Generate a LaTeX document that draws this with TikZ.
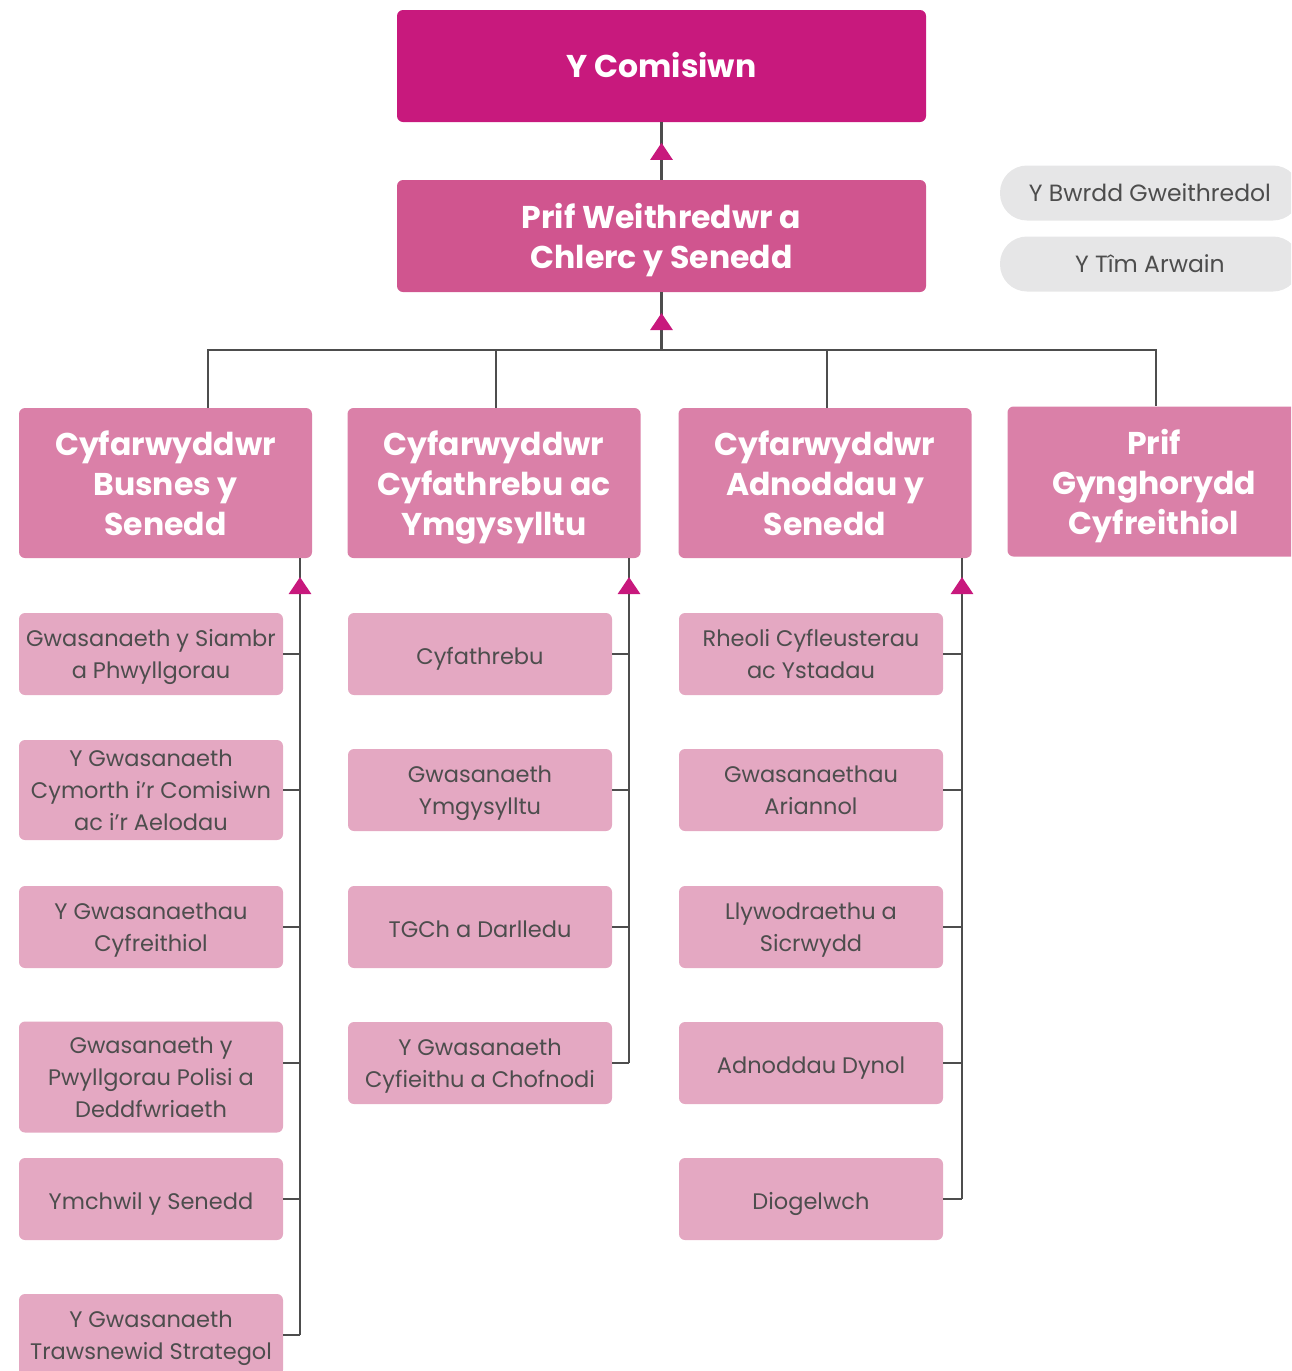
\documentclass[tikz,border=0pt]{standalone}
\usepackage{fontspec}
\setmainfont{Poppins}
\usetikzlibrary{arrows.meta}

\definecolor{comisiwnfill}{HTML}{C8197D}
\definecolor{prifweithfill}{HTML}{D0558F}
\definecolor{cyfarwfill}{HTML}{DA80A8}
\definecolor{gwasfill}{HTML}{E4A8C2}
\definecolor{pillfill}{HTML}{E6E6E7}
\definecolor{linegray}{HTML}{4D4D4D}

\tikzset{
  topbox/.style={fill=#1, rounded corners=6pt, inner sep=0pt, align=center,
    text=white, font=\bfseries\fontsize{31.5}{40}\selectfont,
    execute at begin node=\strut, execute at end node=\strut, text depth=0pt},
  cyfarw/.style={topbox=cyfarwfill, minimum width=293pt, minimum height=150pt},
  gwas/.style={fill=gwasfill, rounded corners=6pt, inner sep=0pt, align=center,
    text=linegray, font=\fontsize{22.5}{32}\selectfont,
    execute at begin node=\strut, execute at end node=\strut, text depth=0.6pt,
    minimum width=264pt, minimum height=82pt},
  pill/.style={fill=pillfill, rounded corners=27pt, inner sep=0pt,
    text=linegray, font=\fontsize{23.5}{32}\selectfont,
    minimum width=300pt, minimum height=55pt},
  conn/.style={draw=linegray, line width=2.8pt},
  uptip/.style={conn, -{Triangle[width=22pt,length=17pt,color=comisiwnfill]}}
}

\begin{document}
\begin{tikzpicture}[x=1pt,y=-1pt]
    \useasboundingbox (0,0) rectangle (1291,1371);
    \clip (0,0) rectangle (1291,1371);
    % Top of the tree
    \node[topbox=comisiwnfill, text depth=6pt, minimum width=529pt, minimum height=112pt] (comisiwn) at (661.5,66) {Y Comisiwn};
    \node[topbox=prifweithfill, minimum width=529pt, minimum height=112pt] (prifweith) at (661.5,236) {Prif Weithredwr a\\Chlerc y Senedd};
    % Boards
    \node[pill] (bwrdd) at (1150,193) {Y Bwrdd Gweithredol};
    \node[pill] (timarwain) at (1150,264) {Y Tîm Arwain};
    % Directors
    \node[cyfarw] (busnes) at (165.5,483) {Cyfarwyddwr\\Busnes y\\Senedd};
    \node[cyfarw] (cyfath) at (494,483) {Cyfarwyddwr\\Cyfathrebu ac\\Ymgysylltu};
    \node[cyfarw] (adnodd) at (825,483) {Cyfarwyddwr\\Adnoddau y\\Senedd};
    \node[cyfarw] (cyngor) at (1154,481.5) {Prif\\Gynghorydd\\Cyfreithiol};
    % Services under Busnes
    \node[gwas] (b1) at (151,654) {Gwasanaeth y Siambr\\a Phwyllgorau};
    \node[gwas, minimum height=100pt] (b2) at (151,790) {Y Gwasanaeth\\Cymorth i’r Comisiwn\\ac i’r Aelodau};
    \node[gwas] (b3) at (151,927) {Y Gwasanaethau\\Cyfreithiol};
    \node[gwas, minimum height=111pt] (b4) at (151,1077) {Gwasanaeth y\\Pwyllgorau Polisi a\\Deddfwriaeth};
    \node[gwas] (b5) at (151,1199) {Ymchwil y Senedd};
    \node[gwas] (b6) at (151,1335) {Y Gwasanaeth\\Trawsnewid Strategol};
    % Services under Cyfathrebu
    \node[gwas] (c1) at (480,654) {Cyfathrebu};
    \node[gwas] (c2) at (480,790) {Gwasanaeth\\Ymgysylltu};
    \node[gwas] (c3) at (480,927) {TGCh a Darlledu};
    \node[gwas] (c4) at (480,1063) {Y Gwasanaeth\\Cyfieithu a Chofnodi};
    % Services under Adnoddau
    \node[gwas] (d1) at (811,654) {Rheoli Cyfleusterau\\ac Ystadau};
    \node[gwas] (d2) at (811,790) {Gwasanaethau\\Ariannol};
    \node[gwas] (d3) at (811,927) {Llywodraethu a\\Sicrwydd};
    \node[gwas] (d4) at (811,1063) {Adnoddau Dynol};
    \node[gwas] (d5) at (811,1199) {Diogelwch};
    % Upper links
    \coordinate (hub) at (661.5,350);
    \draw[conn] (comisiwn.south) -- (prifweith.north);
    \draw[uptip] (prifweith.north) -- ++(0,-37);
    \draw[conn] (prifweith.south) -- (hub);
    \draw[uptip] (hub) -- ++(0,-37);
    \draw[conn] ([xshift=42.5pt]busnes.north) |- (hub) -| ([xshift=2pt]cyngor.north);
    \draw[conn] ([xshift=2pt]cyfath.north) -- ([xshift=2pt]cyfath.north |- hub);
    \draw[conn] ([xshift=2pt]adnodd.north) -- ([xshift=2pt]adnodd.north |- hub);
    % Column lines
    \coordinate (busline) at (300,558);
    \coordinate (cyfline) at (629,558);
    \coordinate (adnline) at (962,558);
    \draw[conn] (busline) -- (busline |- b6.east);
    \draw[conn] (cyfline) -- (cyfline |- c4.east);
    \draw[conn] (adnline) -- (adnline |- d5.east);
    \draw[uptip] (300,614) -- (300,577);
    \draw[uptip] (629,614) -- (629,577);
    \draw[uptip] (962,614) -- (962,577);
    % Ticks
    \draw[conn] (b1.east) -- (b1.east -| busline);
    \draw[conn] (b2.east) -- (b2.east -| busline);
    \draw[conn] (b3.east) -- (b3.east -| busline);
    \draw[conn] ([yshift=14pt]b4.east) -- ([yshift=14pt]b4.east -| busline);
    \draw[conn] (b5.east) -- (b5.east -| busline);
    \draw[conn] (b6.east) -- (b6.east -| busline);
    \draw[conn] (c1.east) -- (c1.east -| cyfline);
    \draw[conn] (c2.east) -- (c2.east -| cyfline);
    \draw[conn] (c3.east) -- (c3.east -| cyfline);
    \draw[conn] (c4.east) -- (c4.east -| cyfline);
    \draw[conn] (d1.east) -- (d1.east -| adnline);
    \draw[conn] (d2.east) -- (d2.east -| adnline);
    \draw[conn] (d3.east) -- (d3.east -| adnline);
    \draw[conn] (d4.east) -- (d4.east -| adnline);
    \draw[conn] (d5.east) -- (d5.east -| adnline);
\end{tikzpicture}
\end{document}
